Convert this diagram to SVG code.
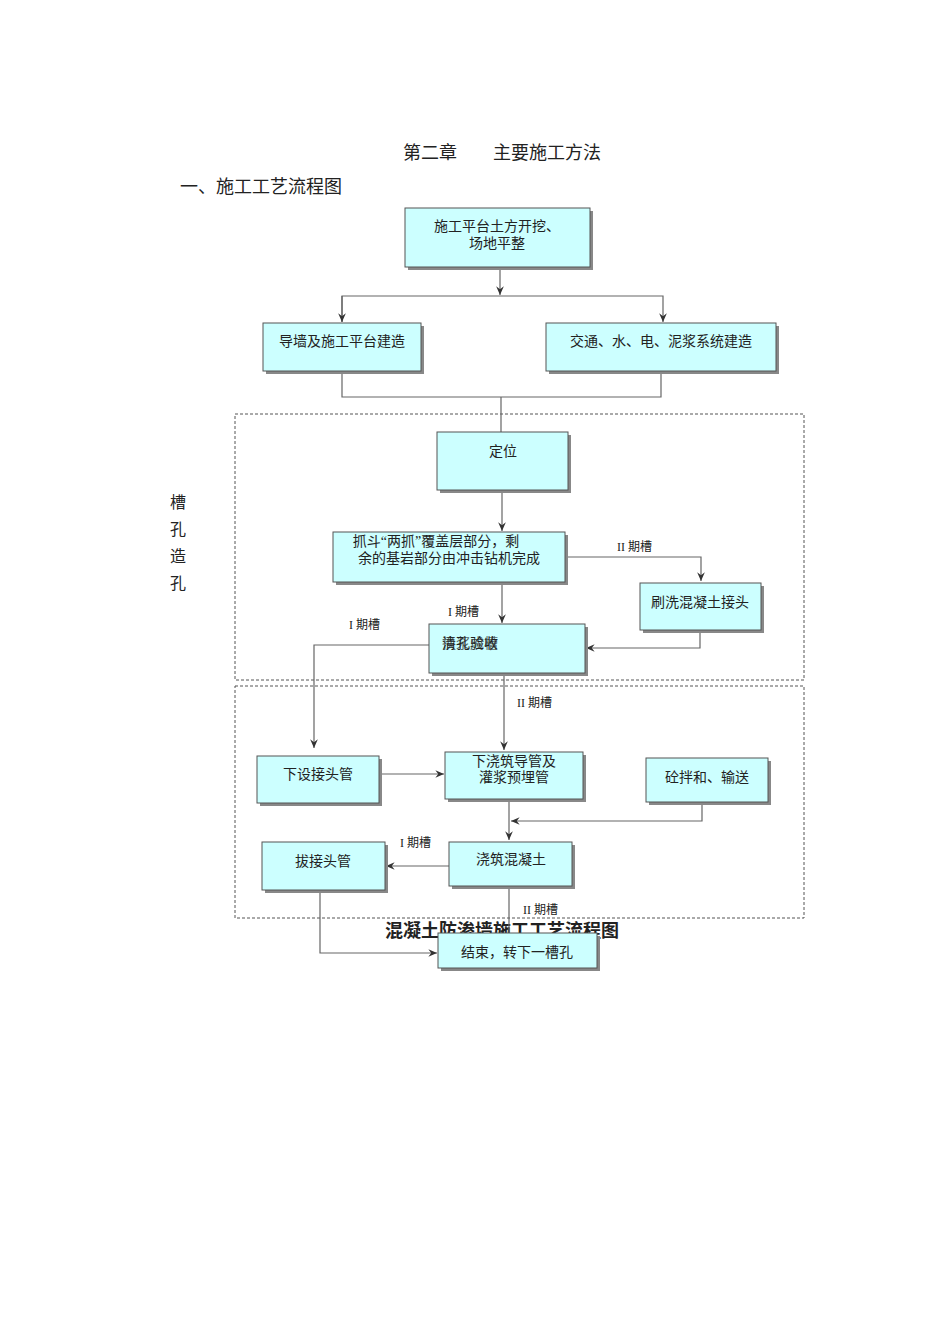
<svg xmlns="http://www.w3.org/2000/svg" width="950" height="1344" viewBox="0 0 950 1344">
<style>
.t{font-family:"Liberation Serif","Noto Sans CJK SC",serif;fill:#222}
.n{font-size:14px;text-anchor:middle}
.l{font-size:12px}
.box{fill:#ccffff;stroke:#555;stroke-width:1}
.sh{fill:#888}
.c{fill:none;stroke:#666;stroke-width:1.2}
.dash{fill:none;stroke:#555;stroke-dasharray:3,2}
</style>
<defs><marker id="a" viewBox="0 0 10 10" refX="9" refY="5" markerWidth="8" markerHeight="8" orient="auto"><path d="M0,1 L9,5 L0,9 L3,5 z" fill="#333"/></marker></defs>
<rect width="950" height="1344" fill="#fff"/>
<text class="t" x="502" y="159" font-size="18" text-anchor="middle">第二章　　主要施工方法</text>
<text class="t" x="180" y="193" font-size="18">一、施工工艺流程图</text>
<g class="t" font-size="16"><text x="170" y="508">槽</text><text x="170" y="535">孔</text><text x="170" y="562">造</text><text x="170" y="589">孔</text></g>
<rect class="dash" x="235" y="414" width="569" height="266"/>
<rect class="dash" x="235" y="686" width="569" height="232"/>
<text class="t" x="502" y="937" font-size="18" font-weight="bold" text-anchor="middle" style="font-family:'Liberation Sans','Noto Sans CJK SC',sans-serif">混凝土防渗墙施工工艺流程图</text>
<g id="connectors">
<path class="c" d="M500,267V295" marker-end="url(#a)"/>
<path class="c" d="M342,322V296H663V322" marker-end="url(#a)"/>
<path class="c" d="M342,296V322" marker-end="url(#a)"/>
<path class="c" d="M342,371V397H661V371M501,397V432"/>
<path class="c" d="M502,490V531" marker-end="url(#a)"/>
<path class="c" d="M565,557H701V581" marker-end="url(#a)"/>
<path class="c" d="M502,582V623" marker-end="url(#a)"/>
<path class="c" d="M700,630V648H586" marker-end="url(#a)"/>
<path class="c" d="M429,645H314V748" marker-end="url(#a)"/>
<path class="c" d="M504,673V750" marker-end="url(#a)"/>
<path class="c" d="M379,774H444" marker-end="url(#a)"/>
<path class="c" d="M509,799V840" marker-end="url(#a)"/>
<path class="c" d="M702,802V821H511" marker-end="url(#a)"/>
<path class="c" d="M449,866H386" marker-end="url(#a)"/>
<path class="c" d="M509,886V933"/>
<path class="c" d="M320,890V953H437" marker-end="url(#a)"/>
<g class="t l"><text x="617" y="551">II 期槽</text><text x="448" y="616">I 期槽</text><text x="349" y="629">I 期槽</text><text x="517" y="707">II 期槽</text><text x="400" y="847">I 期槽</text><text x="523" y="914">II 期槽</text></g>
</g>
<g id="n1"><rect class="sh" x="408" y="211" width="185" height="59"/><rect class="box" x="405" y="208" width="185" height="59"/><text class="t n" x="497" y="231">施工平台土方开挖、</text><text class="t n" x="497" y="248">场地平整</text></g>
<g id="n2"><rect class="sh" x="266" y="326" width="158" height="48"/><rect class="box" x="263" y="323" width="158" height="48"/><text class="t n" x="342" y="346">导墙及施工平台建造</text></g>
<g id="n3"><rect class="sh" x="549" y="326" width="230" height="48"/><rect class="box" x="546" y="323" width="230" height="48"/><text class="t n" x="661" y="346">交通、水、电、泥浆系统建造</text></g>
<g id="n4"><rect class="sh" x="440" y="435" width="131" height="58"/><rect class="box" x="437" y="432" width="131" height="58"/><text class="t n" x="503" y="456">定位</text></g>
<g id="n5"><rect class="sh" x="336" y="535" width="232" height="50"/><rect class="box" x="333" y="532" width="232" height="50"/><text class="t n" x="436" y="546">抓斗“两抓”覆盖层部分，剩</text><text class="t n" x="449" y="563">余的基岩部分由冲击钻机完成</text></g>
<g id="n6"><rect class="sh" x="643" y="586" width="121" height="47"/><rect class="box" x="640" y="583" width="121" height="47"/><text class="t n" x="700" y="607">刷洗混凝土接头</text></g>
<g id="n7"><rect class="sh" x="432" y="627" width="156" height="49"/><rect class="box" x="429" y="624" width="156" height="49"/><text class="t n" x="470" y="648">清孔验收</text><text class="t n" x="470" y="648" opacity="0.7">换浆成槽</text></g>
<g id="n8"><rect class="sh" x="260" y="759" width="122" height="47"/><rect class="box" x="257" y="756" width="122" height="47"/><text class="t n" x="318" y="779">下设接头管</text></g>
<g id="n9"><rect class="sh" x="448" y="755" width="138" height="47"/><rect class="box" x="445" y="752" width="138" height="47"/><text class="t n" x="514" y="766">下浇筑导管及</text><text class="t n" x="514" y="782">灌浆预埋管</text></g>
<g id="n10"><rect class="sh" x="649" y="761" width="122" height="44"/><rect class="box" x="646" y="758" width="122" height="44"/><text class="t n" x="707" y="782">砼拌和、输送</text></g>
<g id="n11"><rect class="sh" x="452" y="845" width="123" height="44"/><rect class="box" x="449" y="842" width="123" height="44"/><text class="t n" x="511" y="864">浇筑混凝土</text></g>
<g id="n12"><rect class="sh" x="265" y="845" width="123" height="48"/><rect class="box" x="262" y="842" width="123" height="48"/><text class="t n" x="323" y="866">拔接头管</text></g>
<g id="n13"><rect class="sh" x="441" y="936" width="159" height="35"/><rect class="box" x="438" y="933" width="159" height="35"/><text class="t n" x="517" y="957">结束，转下一槽孔</text></g>
</svg>
